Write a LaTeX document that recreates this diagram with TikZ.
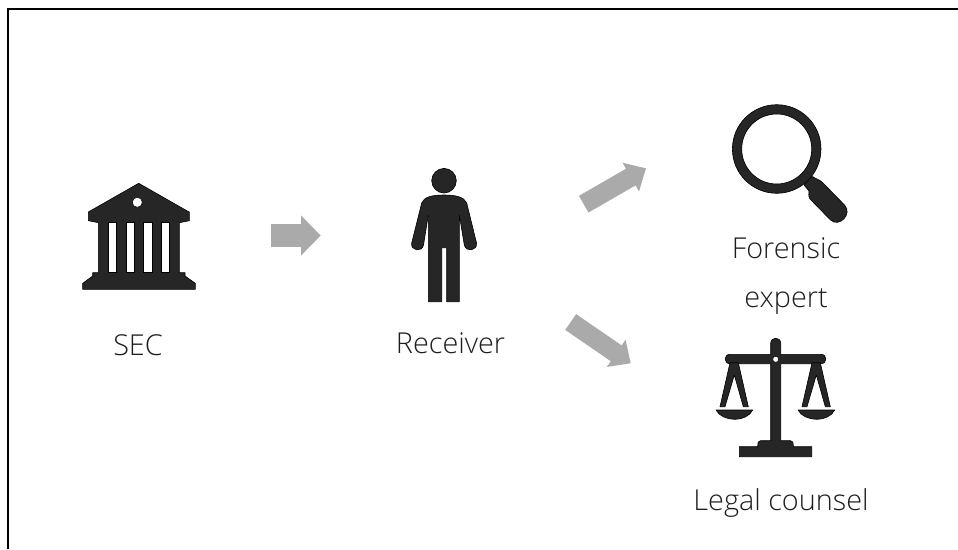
\documentclass[tikz,border=0pt]{standalone}
\usepackage{fontspec}
\setmainfont{Open Sans Light}
\usetikzlibrary{arrows.meta, positioning}
\definecolor{IconDark}{RGB}{38, 38, 38}
\definecolor{LinkGray}{RGB}{170, 170, 170}
\definecolor{LabelDark}{RGB}{30, 30, 30}
\tikzset{
  icon/.style={fill=IconDark, draw=black, line width=0.6pt, line join=round},
  hole/.style={fill=white, draw=black, line width=0.5pt},
  label/.style={font=\fontsize{28.8}{49}\selectfont, text=LabelDark, align=center, inner sep=0pt},
  biglink/.style={draw=LinkGray, line width=23.3pt, -{Triangle[length=19.7pt, width=39pt, fill=LinkGray]}},
  smalllink/.style={draw=LinkGray, line width=19.2pt, -{Triangle[length=17.6pt, width=32pt, fill=LinkGray]}}
}

\begin{document}
\begin{tikzpicture}[x=1pt,y=-1pt]
  \path[use as bounding box] (0,0) rectangle (958,549);
  \fill[white] (0,0) rectangle (958,549);
  \draw[black, line width=2.3pt] (8.3,549) -- (8.3,9.2) -- (958,9.2);

  % bank
  \fill[icon] (138.7,183.3) -- (188.5,211.7) -- (189.3,212) -- (189.3,220.7) -- (179.3,222.7)
    -- (179.3,272.7) -- (185,272.7) -- (185,276) -- (195.3,283.3) -- (195.3,289.3)
    -- (82.7,289.3) -- (82.7,283.3) -- (92.7,276) -- (92.7,272.7) -- (98.3,272.7)
    -- (98.3,222.7) -- (88.3,220.7) -- (88.3,212) -- cycle;
  \foreach \x in {108.3,126,143.5,161}{
    \fill[hole] (\x,222.7) rectangle ++(8.3,50);
  }
  \fill[hole] (137.3,202.3) circle[radius=5];

  % person
  \fill[icon] (444,180.7) circle[radius=12.3];
  \fill[icon] (444,195) .. controls (432,195) and (424,197) .. (421.7,203)
    -- (411.7,243) .. controls (410.5,251) and (422,252.5) .. (423.5,245)
    -- (428.3,215) -- (428.3,301.7) -- (441.7,301.7) -- (441.7,247.7) -- (446.7,247.7)
    -- (446.7,301.7) -- (459.3,301.7) -- (459.3,215) -- (464.3,245)
    .. controls (466,252.5) and (477.5,251) .. (476.5,243)
    -- (466.7,203) .. controls (464,197) and (456,195) .. (444,195) -- cycle;

  % magnifier
  \fill[icon, even odd rule] (776.7,149) circle[radius=44.3] (776.7,149) circle[radius=35];
  \fill[icon] (804,185) -- (812.5,176.5) .. controls (816,179) and (820,180) .. (822,182)
    -- (844.5,205) .. controls (853,214) and (839,228) .. (830.5,220)
    -- (810,199) .. controls (808,196) and (809,193) .. (809,191) -- cycle;

  % scales
  \fill[icon] (770.7,343.3) .. controls (770.7,336.5) and (780.7,336.5) .. (780.7,343.3)
    -- (780.7,354.3) -- (821,354.3) .. controls (827.5,354.3) and (827.5,363.7) .. (821,363.7)
    -- (780.7,363.7) -- (780.7,440.7) -- (790.5,440.7) .. controls (792.5,440.7) and (793.3,442) .. (793.3,446.7)
    -- (811.7,446.7) -- (811.7,456.7) -- (739.3,456.7) -- (739.3,446.7) -- (757.7,446.7)
    .. controls (757.7,442) and (758.5,440.7) .. (760.5,440.7)
    -- (770.7,440.7) -- (770.7,363.7) -- (730,363.7) .. controls (723.5,363.7) and (723.5,354.3) .. (730,354.3)
    -- (770.7,354.3) -- cycle;
  \fill[hole] (775.7,359.3) circle[radius=3];
  \foreach \x in {0,82}{
    \fill[icon, even odd rule] (730+\x,362.7) -- (738.3+\x,362.7) -- (748.3+\x,406.7) -- (743.3+\x,406.7)
      -- (734.3+\x,375) -- (725+\x,406.7) -- (720+\x,406.7) -- cycle;
    \fill[icon] (716+\x,410) -- (752.7+\x,410) .. controls (750+\x,416) and (742+\x,419.3) .. (734.3+\x,419.3)
      .. controls (727+\x,419.3) and (719+\x,416) .. (716+\x,410) -- cycle;
  }

  % labels
  \node[label] (sec) at (138,345.5) {SEC};
  \node[label] (receiver) at (450.5,343) {Receiver};
  \node[label] (forensic) at (786,276) {Forensic\\expert};
  \node[label] (legal) at (781,503) {Legal counsel};

  % links
  \coordinate (secOut) at (270.7,235.5);
  \coordinate (receiverIn) at (320.7,235.5);
  \coordinate (upperOut) at (583.7,204.2);
  \coordinate (forensicIn) at (646,168.3);
  \coordinate (lowerOut) at (570.7,322);
  \coordinate (legalIn) at (630.7,363.3);
  \draw[biglink] (secOut) -- (receiverIn);
  \draw[smalllink] (upperOut) -- (forensicIn);
  \draw[smalllink] (lowerOut) -- (legalIn);
\end{tikzpicture}
\end{document}
